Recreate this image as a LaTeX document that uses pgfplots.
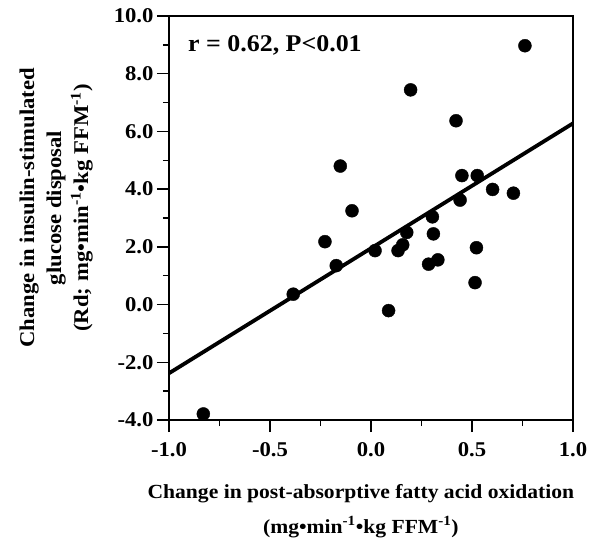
\documentclass[border=0pt]{standalone}
\usepackage{fontspec}
\setmainfont{Liberation Serif}[FakeStretch=1.08]
\usepackage{pgfplots}
\pgfplotsset{compat=1.18}
\begin{document}
\begin{tikzpicture}
\begin{axis}[
    name=ax,
    scale only axis,
    width=404pt, height=404pt,
    xmin=-1, xmax=1, ymin=-4, ymax=10,
    axis line style={line width=1.4pt},
    tick align=outside, tick pos=left,
    xtick={-1,-0.5,0,0.5,1},
    ytick={-4,-2,0,2,4,6,8,10},
    minor x tick num=1, minor y tick num=1,
    major tick length=12pt, minor tick length=6pt,
    every tick/.style={black, line width=1.4pt},
    ticklabel style={font=\fontsize{21}{25}\selectfont\bfseries},
    xticklabel style={yshift=-7pt},
    /pgf/number format/.cd, fixed, fixed zerofill, precision=1, assume math mode=true,
    /pgfplots/.cd,
    xlabel={Change in post-absorptive fatty acid oxidation\\(mg•min\textsuperscript{-1}•kg FFM\textsuperscript{-1})},
    xlabel style={at={(axis description cs:0.475,-0.158)}, anchor=north, inner sep=0pt,
        align=center, font=\fontsize{20}{35}\selectfont\bfseries},
    ylabel={Change in insulin-stimulated\\glucose disposal\\(Rd; mg•min\textsuperscript{-1}•kg FFM\textsuperscript{-1})},
    ylabel style={at={(axis description cs:-0.188,0.525)}, anchor=south, inner sep=0pt,
        align=center, font=\fontsize{21}{27}\selectfont\bfseries},
  ]
  % regression line
  \addplot[black, line width=3.8pt] coordinates {(-1,-2.38) (1,6.28)};
  % subjects
  \addplot[only marks, mark=*, mark size=6.5pt, black] coordinates {
    (0.762,8.97)
    (0.196,7.44)
    (0.421,6.37)
    (-0.152,4.80)
    (0.450,4.47)
    (0.526,4.47)
    (0.602,3.99)
    (0.705,3.86)
    (0.441,3.62)
    (-0.094,3.25)
    (0.304,3.04)
    (-0.228,2.18)
    (0.177,2.50)
    (0.309,2.45)
    (0.157,2.07)
    (0.134,1.87)
    (0.020,1.87)
    (-0.172,1.35)
    (0.522,1.97)
    (0.285,1.40)
    (0.331,1.55)
    (0.515,0.76)
    (0.087,-0.21)
    (-0.385,0.36)
    (-0.830,-3.79)
  };
  \node[anchor=west, inner sep=0pt, font=\fontsize{24}{28}\selectfont\bfseries]
    at (axis description cs:0.047,0.928) {r = 0.62, P<0.01};
\end{axis}
\path[use as bounding box] ([shift={(-169pt,-117pt)}]ax.south west) rectangle ([shift={(26pt,16pt)}]ax.north east);
\end{tikzpicture}
\end{document}
